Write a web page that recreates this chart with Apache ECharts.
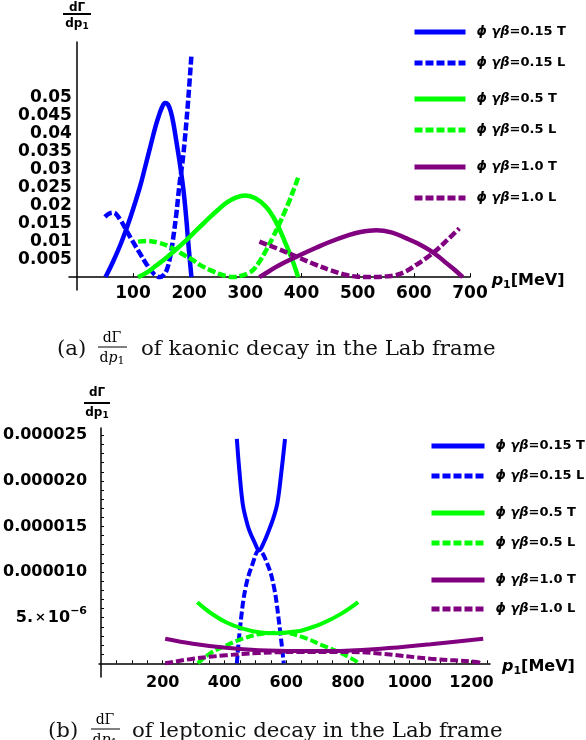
<!DOCTYPE html>
<html>
<head>
<meta charset="utf-8">
<script src="https://cdn.jsdelivr.net/npm/echarts@6/dist/echarts.min.js"></script>
<style>
html, body { margin: 0; padding: 0; background: #fff; }
#main { width: 586px; height: 740px; }
</style>
</head>
<body>
<div id="main"></div>
<script>
// (a) kaonic decay: [p1 (MeV), dGamma/dp1]
const kaon015T = [[51,0],[65,0.0045],[80,0.01],[96,0.017],[112,0.025],[122,0.031],[131,0.0365],[140,0.042],[147,0.0455],[152,0.0475],[157,0.0486],[162,0.0482],[167,0.0463],[172,0.0428],[177,0.038],[184,0.031],[190,0.024],[195,0.016],[198,0.0103],[201,0.005],[204,0]];
const kaon015L = [[50,0.0168],[57,0.0177],[65,0.018],[76,0.0163],[88,0.0131],[100,0.0098],[112,0.0067],[124,0.0036],[136,0.0011],[142,0.0003],[148,0],[154,0.0005],[160,0.002],[166,0.0055],[171,0.0103],[177,0.0175],[183,0.0262],[188,0.032],[192,0.038],[198,0.049],[204,0.062]];
const kaon05T = [[109,0],[125,0.0013],[142,0.0033],[160,0.0055],[178,0.0079],[195,0.0103],[213,0.0131],[231,0.0158],[248,0.0183],[266,0.0207],[283,0.0222],[300,0.0228],[318,0.022],[337,0.0196],[350,0.0167],[361,0.0133],[370,0.01],[379,0.0066],[387,0.0033],[394,0]];
const kaon05L = [[109,0.0099],[124,0.0101],[145,0.0096],[165,0.0085],[186,0.0066],[207,0.0047],[219,0.0034],[237,0.002],[255,0.0008],[268,0.0002],[278,0],[295,0.0005],[305,0.0011],[314,0.002],[326,0.0045],[337,0.0075],[349,0.0111],[361,0.015],[370,0.0182],[379,0.0215],[387,0.0248],[395,0.0282]];
const kaon10T = [[325,0],[343,0.0017],[361,0.0034],[391,0.0057],[426,0.0082],[450,0.0098],[480,0.0115],[505,0.0126],[533,0.0131],[560,0.0125],[587,0.0108],[608,0.0093],[628,0.0075],[645,0.0056],[658,0.0039],[673,0.002],[687,0]];
const kaon10L = [[325,0.0099],[343,0.0088],[361,0.0077],[391,0.0057],[426,0.0034],[450,0.002],[480,0.0006],[500,0.0001],[530,0],[550,0.0002],[569,0.0006],[587,0.0017],[604,0.0034],[622,0.0053],[640,0.0075],[660,0.0104],[681,0.0136]];

// (b) leptonic decay: [p1 (MeV), dGamma/dp1]
const lep015T = [[440,24.6e-6],[448,21.2e-6],[459,17.5e-6],[469,15.9e-6],[480,14.6e-6],[497,13.3e-6],[512,12.4e-6],[528,13.3e-6],[544,14.6e-6],[558,15.9e-6],[571,17.5e-6],[585,21.2e-6],[596,24.6e-6]];
const lep015L = [[440,0],[453,4.7e-6],[469,8.4e-6],[491,10.9e-6],[512,12.4e-6],[539,10.9e-6],[560,8.4e-6],[576,4.7e-6],[592,0]];
const lep05T = [[312,6.7e-6],[352,5.6e-6],[405,4.5e-6],[459,3.8e-6],[512,3.4e-6],[565,3.3e-6],[629,3.5e-6],[651,3.6e-6],[715,4.35e-6],[779,5.45e-6],[833,6.7e-6]];
const lep05L = [[314,0],[352,1.06e-6],[395,1.8e-6],[459,2.7e-6],[523,3.25e-6],[587,3.35e-6],[651,2.9e-6],[715,2.0e-6],[769,1.24e-6],[810,0.55e-6],[837,0]];
const lep10T = [[208,2.7e-6],[298,2.15e-6],[405,1.7e-6],[512,1.43e-6],[640,1.35e-6],[747,1.35e-6],[907,1.6e-6],[1068,2.1e-6],[1238,2.7e-6]];
const lep10L = [[208,0],[298,0.5e-6],[405,0.88e-6],[512,1.13e-6],[640,1.24e-6],[801,1.24e-6],[907,1.06e-6],[1068,0.5e-6],[1217,0.15e-6],[1232,0]];

// tick positions
const kaonXTicks = [100, 200, 300, 400, 500, 600, 700];
const kaonYTicks = [0.005, 0.01, 0.015, 0.02, 0.025, 0.03, 0.035, 0.04, 0.045, 0.05];
const lepXLabels = [200, 400, 600, 800, 1000, 1200];
const lepXTicks = [50,100,150,200,250,300,350,400,450,500,550,600,650,700,750,800,850,900,950,1000,1050,1100,1150,1200,1250];
const lepYLabels = [5e-6, 10e-6, 15e-6, 20e-6, 25e-6];
const lepYTicks = [1e-6,2e-6,3e-6,4e-6,5e-6,6e-6,7e-6,8e-6,9e-6,10e-6,11e-6,12e-6,13e-6,14e-6,15e-6,16e-6,17e-6,18e-6,19e-6,20e-6,21e-6,22e-6,23e-6,24e-6,25e-6];

const legendNames = {
  '015T': '{i|ϕ γβ}{n|=0.15 T}', '015L': '{i|ϕ γβ}{n|=0.15 L}',
  '05T': '{i|ϕ γβ}{n|=0.5 T}', '05L': '{i|ϕ γβ}{n|=0.5 L}',
  '10T': '{i|ϕ γβ}{n|=1.0 T}', '10L': '{i|ϕ γβ}{n|=1.0 L}'
};

const BLUE = '#0000ff', GREEN = '#00ff00', PURPLE = '#800080';
const FONT = 'DejaVu Sans';
const dash = [8, 3];

// plot boxes: grid edges in px, axis ranges
const boxA = { left: 69, right: 116, top: 42, bottom: 450, xMin: -14, xMax: 700, yMin: -0.0036, yMax: 0.0656 };
const boxB = { left: 95, right: 96, top: 428, bottom: 63, xMin: -6, xMax: 1260, yMin: -1.5e-6, yMax: 25.8e-6 };
const W = 586, H = 740;
// shift axes inward so they cross at (0, 0)
const xOff = b => -(0 - b.yMin) / (b.yMax - b.yMin) * (H - b.top - b.bottom);
const yOff = b => -(0 - b.xMin) / (b.xMax - b.xMin) * (W - b.left - b.right);

function curve(name, data, color, dashed, idx, w) {
  return {
    name, type: 'line', data, xAxisIndex: idx, yAxisIndex: idx,
    color, symbol: 'none', smooth: 0.4,
    lineStyle: { color, width: w, type: dashed ? dash : 'solid' },
    animation: false
  };
}

function legendPair(top, left, names, w, gap) {
  return {
    orient: 'vertical', top, left, padding: 0, itemGap: gap,
    itemWidth: w, itemHeight: 14, selectedMode: false,
    itemStyle: { opacity: 0, color: 'transparent', borderWidth: 0 },
    lineStyle: { width: 5 },
    data: names,
    formatter: n => legendNames[n.slice(2)],
    textStyle: {
      lineHeight: 14,
      rich: {
        i: { fontFamily: FONT, fontWeight: 'bold', fontStyle: 'italic', fontSize: 13, color: '#000', padding: [0, 0, 0, 6] },
        n: { fontFamily: FONT, fontWeight: 'bold', fontSize: 13, color: '#000' }
      }
    }
  };
}

const axisLine = { onZero: false, lineStyle: { color: '#000', width: 1.5 } };
const nameRich = {
  p: { fontFamily: FONT, fontWeight: 'bold', fontStyle: 'italic', fontSize: 16, color: '#000' },
  s: { fontFamily: FONT, fontWeight: 'bold', fontSize: 11, color: '#000', padding: [8, 0, 0, 0] },
  m: { fontFamily: FONT, fontWeight: 'bold', fontSize: 16, color: '#000' }
};

function fraction(cx, yTop, yBar, yBot, x1, x2, bold, size, serif) {
  const fam = serif ? '"DejaVu Serif"' : '"DejaVu Sans"';
  const f = (serif ? '' : 'bold ') + size + 'px ' + fam;
  return [
    { type: 'text', style: { text: 'dΓ', x: cx, y: yTop, font: f, fill: '#000', align: 'center', verticalAlign: 'middle', textAlign: 'center', textVerticalAlign: 'middle' } },
    { type: 'line', shape: { x1, y1: yBar, x2, y2: yBar }, style: { stroke: '#000', lineWidth: bold ? 2 : 1 } },
    { type: 'text', style: {
        text: serif ? '{d|d}{p|p}{s|1}' : '{d|dp}{s|1}', x: cx, y: yBot, fill: '#000',
        align: 'center', verticalAlign: 'middle', textAlign: 'center', textVerticalAlign: 'middle',
        rich: {
          d: { font: f },
          p: { font: 'italic ' + f },
          s: { font: (serif ? '' : 'bold ') + Math.round(size * 0.75) + 'px ' + fam, padding: [6, 0, 0, 0] }
        } } }
  ];
}

function caption(x, cx, bx1, bx2, tx, y, tag, body) {
  const f = '21.3px "DejaVu Serif"';
  return [
    { type: 'text', style: { text: tag, x, y, font: f, fill: '#111', align: 'left', verticalAlign: 'middle', textAlign: 'left', textVerticalAlign: 'middle' } },
    ...fraction(cx, y - 11, y - 2, y + 9, bx1, bx2, false, 14, true),
    { type: 'text', style: { text: body, x: tx, y, font: f, fill: '#111', align: 'left', verticalAlign: 'middle', textAlign: 'left', textVerticalAlign: 'middle' } }
  ];
}

const chart = echarts.init(document.getElementById('main'), null, { renderer: 'canvas' });
chart.setOption({
  backgroundColor: '#fff',
  animation: false,
  grid: [
    { left: boxA.left, right: boxA.right, top: boxA.top, bottom: boxA.bottom },
    { left: boxB.left, right: boxB.right, top: boxB.top, bottom: boxB.bottom }
  ],
  xAxis: [
    {
      gridIndex: 0, type: 'value', min: boxA.xMin, max: boxA.xMax, offset: xOff(boxA),
      axisLine, splitLine: { show: false },
      axisTick: { inside: true, length: 4, customValues: kaonXTicks, lineStyle: { color: '#000' } },
      axisLabel: { customValues: kaonXTicks, margin: 8, color: '#000', fontFamily: FONT, fontWeight: 'bold', fontSize: 17 },
      name: '{p|p}{s|1}{m|[MeV]}', nameLocation: 'end', nameGap: 12,
      nameTextStyle: { rich: nameRich, padding: [8, 0, 0, 0] }
    },
    {
      gridIndex: 1, type: 'value', min: boxB.xMin, max: boxB.xMax, offset: xOff(boxB),
      axisLine, splitLine: { show: false },
      axisTick: { inside: true, length: 3, customValues: lepXTicks, lineStyle: { color: '#000' } },
      axisLabel: { customValues: lepXLabels, margin: 12, color: '#000', fontFamily: FONT, fontWeight: 'bold', fontSize: 16, formatter: v => String(v) },
      name: '{p|p}{s|1}{m|[MeV]}', nameLocation: 'end', nameGap: 12,
      nameTextStyle: { rich: nameRich, padding: [8, 0, 0, 0] }
    }
  ],
  yAxis: [
    {
      gridIndex: 0, type: 'value', min: boxA.yMin, max: boxA.yMax, offset: yOff(boxA),
      axisLine, splitLine: { show: false }, axisTick: { show: false },
      axisLabel: {
        customValues: kaonYTicks, margin: 5, color: '#000', fontFamily: FONT, fontWeight: 'bold', fontSize: 17,
        formatter: v => String(+v.toFixed(3))
      }
    },
    {
      gridIndex: 1, type: 'value', min: boxB.yMin, max: boxB.yMax, offset: yOff(boxB),
      axisLine, splitLine: { show: false },
      axisTick: { inside: true, length: 3, customValues: lepYTicks, lineStyle: { color: '#000' } },
      axisLabel: {
        customValues: lepYLabels, margin: 14, color: '#000', fontFamily: FONT, fontWeight: 'bold', fontSize: 16,
        formatter: v => v < 6e-6 ? '{a|5.}{x|×}{a|10}{e|−6}' : v.toFixed(6),
        rich: {
          a: { fontFamily: FONT, fontWeight: 'bold', fontSize: 16, color: '#000' },
          x: { fontFamily: FONT, fontWeight: 'bold', fontSize: 13, color: '#000', padding: [0, 2, 0, 2] },
          e: { fontFamily: FONT, fontWeight: 'bold', fontSize: 11, color: '#000', padding: [0, 0, 14, 0] }
        }
      }
    }
  ],
  legend: [
    legendPair(25, 412, ['a-015T', 'a-015L'], 51, 17),
    legendPair(92, 412, ['a-05T', 'a-05L'], 51, 17),
    legendPair(160, 412, ['a-10T', 'a-10L'], 51, 17),
    legendPair(439, 429, ['b-015T', 'b-015L'], 53, 16),
    legendPair(506, 429, ['b-05T', 'b-05L'], 53, 16),
    legendPair(573, 429, ['b-10T', 'b-10L'], 53, 15)
  ],
  graphic: [
    ...fraction(77, 8, 14, 24, 63, 91, true, 12, false),
    ...fraction(97, 393, 403, 413, 84, 110, true, 12, false),
    ...caption(57, 112, 98, 127, 141, 349, '(a)', 'of kaonic decay in the Lab frame'),
    ...caption(48, 105, 91, 120, 132, 731, '(b)', 'of leptonic decay in the Lab frame')
  ],
  series: [
    curve('a-015T', kaon015T, BLUE, false, 0, 4.5),
    curve('a-015L', kaon015L, BLUE, true, 0, 4.5),
    curve('a-05T', kaon05T, GREEN, false, 0, 4.5),
    curve('a-05L', kaon05L, GREEN, true, 0, 4.5),
    curve('a-10T', kaon10T, PURPLE, false, 0, 4.5),
    curve('a-10L', kaon10L, PURPLE, true, 0, 4.5),
    curve('b-015T', lep015T, BLUE, false, 1, 4),
    curve('b-015L', lep015L, BLUE, true, 1, 4),
    curve('b-05T', lep05T, GREEN, false, 1, 4),
    curve('b-05L', lep05L, GREEN, true, 1, 4),
    curve('b-10T', lep10T, PURPLE, false, 1, 4),
    curve('b-10L', lep10L, PURPLE, true, 1, 4)
  ]
});
</script>
</body>
</html>
